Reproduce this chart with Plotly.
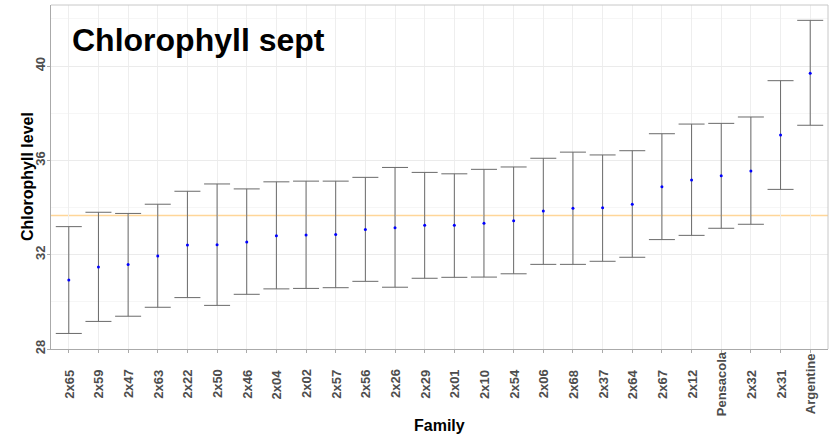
import plotly.graph_objects as go

families = ["2x65", "2x59", "2x47", "2x63", "2x22", "2x50", "2x46", "2x04", "2x02", "2x57",
            "2x56", "2x26", "2x29", "2x01", "2x10", "2x54", "2x06", "2x68", "2x37", "2x64",
            "2x67", "2x12", "Pensacola", "2x32", "2x31", "Argentine"]
means = [30.93, 31.48, 31.58, 31.94, 32.41, 32.42, 32.54, 32.80, 32.83, 32.86,
         33.07, 33.14, 33.25, 33.25, 33.33, 33.44, 33.85, 33.97, 33.99, 34.14,
         34.88, 35.17, 35.35, 35.55, 37.08, 39.70]
upper = [33.19, 33.80, 33.75, 34.14, 34.69, 35.00, 34.79, 35.09, 35.12, 35.12,
         35.28, 35.70, 35.49, 35.43, 35.62, 35.72, 36.09, 36.35, 36.23, 36.41,
         37.13, 37.54, 37.57, 37.84, 39.38, 41.94]
lower = [28.66, 29.17, 29.39, 29.77, 30.18, 29.85, 30.32, 30.55, 30.57, 30.60,
         30.87, 30.62, 31.00, 31.04, 31.05, 31.19, 31.59, 31.59, 31.72, 31.89,
         32.64, 32.82, 33.12, 33.29, 34.77, 37.49]
overall_mean = 33.66
y_ticks = [28, 32, 36, 40]
y_minor = [30, 34, 38, 42]
title_text = "Chlorophyll sept"
x_title = "Family"
y_title = "Chlorophyll level"

FONT = "Liberation Sans, Arial, sans-serif"
TICKCOL = "#4d4d4d"

fig = go.Figure()
fig.add_trace(go.Scatter(
    x=families, y=means, mode="markers",
    marker=dict(color="#0000ff", size=3),
    error_y=dict(type="data", symmetric=False,
                 array=[u - m for u, m in zip(upper, means)],
                 arrayminus=[m - l for m, l in zip(means, lower)],
                 color="#6a6a6a", thickness=1, width=13),
    showlegend=False, cliponaxis=False,
))

# overall mean line
fig.add_shape(type="line", xref="paper", x0=0, x1=1, yref="y", y0=overall_mean, y1=overall_mean,
              line=dict(color="#FFD699", width=1.5), layer="below")
# top and right panel border
fig.add_shape(type="line", xref="paper", yref="paper", x0=0, x1=1, y0=1, y1=1,
              line=dict(color="#c8c8c8", width=1))
fig.add_shape(type="line", xref="paper", yref="paper", x0=1, x1=1, y0=0, y1=1,
              line=dict(color="#c8c8c8", width=1))

annotations = [dict(text=title_text, xref="paper", yref="paper", x=19 / 777, y=(349 - 40) / 344,
                    xanchor="left", yanchor="middle", showarrow=False,
                    font=dict(family=FONT, size=32, color="black", weight="bold"))]
for f in families:
    annotations.append(dict(text=f, xref="x", yref="paper", x=f, y=(349 - 384) / 344,
                            xanchor="center", yanchor="middle", textangle=-90, showarrow=False,
                            font=dict(family=FONT, size=13, color=TICKCOL, weight="bold")))
annotations.append(dict(text=x_title, xref="paper", yref="paper", x=0.5, y=(349 - 425) / 344,
                        xanchor="center", yanchor="middle", showarrow=False,
                        font=dict(family=FONT, size=16, color="black", weight="bold")))
annotations.append(dict(text=y_title, xref="paper", yref="paper", x=(27 - 51) / 777, y=0.5,
                        xanchor="center", yanchor="middle", textangle=-90, showarrow=False,
                        font=dict(family=FONT, size=16, color="black", weight="bold")))

fig.update_layout(
    width=829, height=439,
    margin=dict(l=51, r=1, t=5, b=90, autoexpand=False),
    plot_bgcolor="white", paper_bgcolor="white",
    font=dict(family=FONT),
    annotations=annotations,
    xaxis=dict(type="category", range=[-0.6, len(families) - 0.4], automargin=False,
               showticklabels=False, ticks="outside", ticklen=3, tickcolor="#aaaaaa",
               showgrid=True, gridcolor="#eeeeee", gridwidth=1,
               showline=True, linecolor="#aaaaaa", linewidth=1, zeroline=False),
    yaxis=dict(range=[28, 42.59], tickvals=y_ticks, ticktext=[str(v) for v in y_ticks],
               automargin=False, ticklabelstandoff=-3,
               tickangle=-90, ticks="outside", ticklen=3, tickcolor="#aaaaaa",
               tickfont=dict(family=FONT, size=13, color=TICKCOL, weight="bold"),
               showgrid=True, gridcolor="#ebebeb", gridwidth=1,
               minor=dict(tickvals=y_minor, showgrid=True, gridcolor="#f6f6f6", gridwidth=1),
               showline=True, linecolor="#aaaaaa", linewidth=1, zeroline=False),
)

fig.write_html("out.html", config={"displayModeBar": False},
               post_script="document.body.style.margin='0';document.body.style.overflow='hidden';")
